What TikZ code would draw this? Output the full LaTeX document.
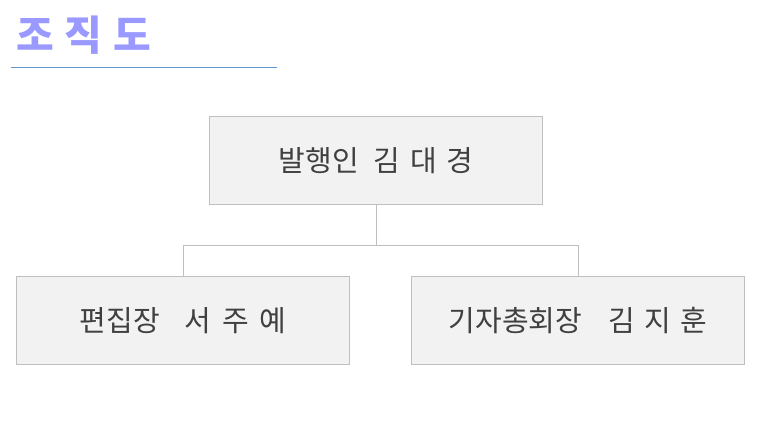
\documentclass[tikz,border=0pt]{standalone}
\usepackage{fontspec}
\newfontfamily\kr{Noto Sans CJK KR}
\definecolor{boxfill}{HTML}{F2F2F2}
\definecolor{boxline}{HTML}{BFBFBF}
\definecolor{titlec}{HTML}{9999FF}
\definecolor{rulec}{HTML}{5B9BD5}
\definecolor{txt}{HTML}{404040}
\begin{document}
\begin{tikzpicture}[x=1pt,y=-1pt,
  orgbox/.style={draw=boxline,fill=boxfill,line width=0.8pt,minimum width=333pt,minimum height=88pt,inner sep=0pt,anchor=north west,font=\kr\fontsize{29}{33}\selectfont,text=txt},
  conn/.style={draw=boxline,line width=0.8pt}]
\useasboundingbox (0,0) rectangle (760,440);
\node[anchor=west,text=titlec,font=\kr\bfseries\fontsize{41}{45}\selectfont,inner sep=0pt] (title) at (16,35) {조\hspace{11pt}직\hspace{11pt}도};
\coordinate (rl) at (11,67);
\coordinate (rr) at (277,67);
\draw[rulec,line width=0.8pt] (rl) -- (rr);
\node[orgbox] (top) at (209,116) {발행인\hspace{15pt}김\hspace{9.5pt}대\hspace{9.5pt}경};
\node[orgbox] (left) at (16,276) {편집장\hspace{25pt}서\hspace{10.5pt}주\hspace{10.5pt}예};
\node[orgbox] (right) at (411,276) {기자총회장\hspace{26pt}김\hspace{9.5pt}지\hspace{9.5pt}훈};
\draw[conn] (top.south) -- (top.south |- 0,245) coordinate (j);
\draw[conn] (left.north) -- (left.north |- j) -- (right.north |- j) -- (right.north);
\end{tikzpicture}
\end{document}
